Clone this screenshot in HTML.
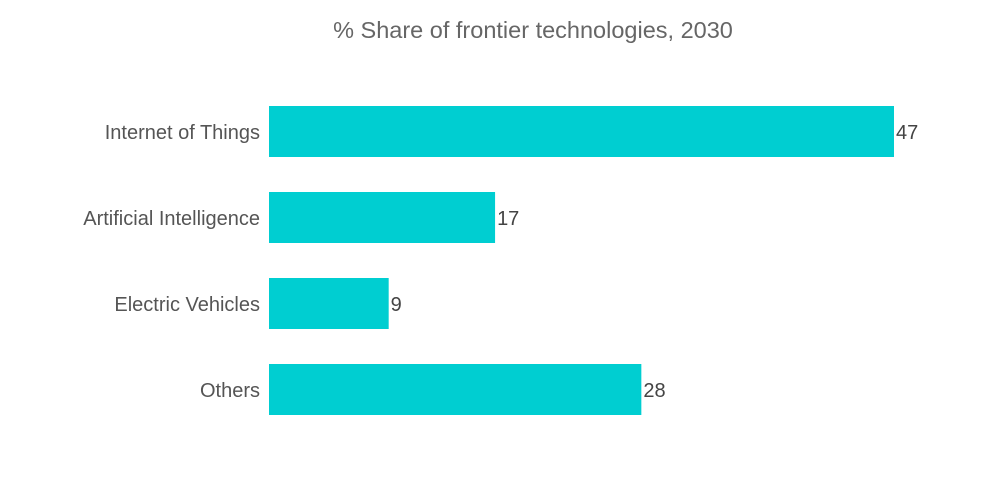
<!DOCTYPE html>
<html><head><meta charset="utf-8"><style>
body{margin:0;background:#fff;}
svg{display:block;font-family:"Liberation Sans",sans-serif;}
</style></head><body>
<svg id="chart" width="1000" height="504">
<text x="533" y="38" text-anchor="middle" font-size="23.5" fill="#666">% Share of frontier technologies, 2030</text>
<g id="bars"></g>
</svg>
<script>
const categories=["Internet of Things","Artificial Intelligence","Electric Vehicles","Others"];
const values=[47,17,9,28];
const x0=269, scale=625/47, y0=106, step=86, bh=51;
const xs=v=>x0+v*scale;
const g=document.getElementById('bars');
const ns='http://www.w3.org/2000/svg';
categories.forEach((c,i)=>{
  const y=y0+i*step;
  const r=document.createElementNS(ns,'rect');
  r.setAttribute('x',x0);r.setAttribute('y',y);r.setAttribute('width',xs(values[i])-x0);r.setAttribute('height',bh);r.setAttribute('fill','#00ced1');
  
  
  g.appendChild(r);
  const l=document.createElementNS(ns,'text');
  l.setAttribute('x',260);l.setAttribute('y',y+bh/2+7.5);l.setAttribute('text-anchor','end');l.setAttribute('font-size','20');l.setAttribute('fill','#555');
  l.textContent=c;
  
  
  g.appendChild(l);
  const t=document.createElementNS(ns,'text');
  t.setAttribute('x',xs(values[i])+2);t.setAttribute('y',y+bh/2+7.5);t.setAttribute('font-size','20');t.setAttribute('fill','#444');
  t.textContent=values[i];
  
  
  g.appendChild(t);
});
</script>
</body></html>
